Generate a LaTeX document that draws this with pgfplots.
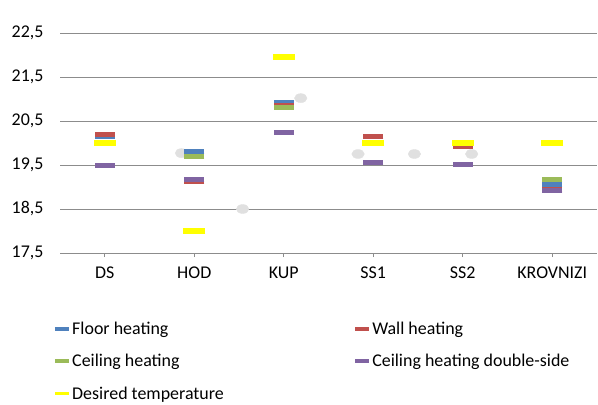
\documentclass[border=0pt]{standalone}
\usepackage{fontspec}
\setmainfont{Carlito}
\usepackage{pgfplots}
\pgfplotsset{compat=1.18}
\definecolor{cBlue}{HTML}{4F81BD}
\definecolor{cRed}{HTML}{C0504D}
\definecolor{cGreen}{HTML}{9BBB59}
\definecolor{cPurple}{HTML}{8064A2}
\definecolor{cYellow}{HTML}{FFFF00}
\definecolor{cGrid}{HTML}{8C8C8C}
\begin{document}
\begin{tikzpicture}[font=\fontsize{18}{21}\selectfont]
\path[use as bounding box] (-60bp,-152bp) rectangle (538bp,253bp);
\begin{axis}[
  at={(0,0)}, anchor=south west,
  scale only axis, width=537bp, height=220bp,
  xmin=-0.5, xmax=5.5, ymin=17.5, ymax=22.5,
  xtick={0,1,2,3,4,5},
  xticklabels={DS,HOD,KUP,SS1,SS2,KROVNIZI},
  ytick={17.5,18.5,19.5,20.5,21.5,22.5},
  yticklabel style={/pgf/number format/fixed,/pgf/number format/fixed zerofill,/pgf/number format/precision=1,/pgf/number format/use comma},
  /pgf/number format/assume math mode=true,
  axis y line*=left,
  y axis line style={draw=none},
  ytick style={draw=none},
  axis x line*=bottom,
  x axis line style={draw=cGrid, line width=1bp, -},
  ymajorgrids, grid style={draw=cGrid, line width=1bp},
  major tick length=4bp,
  xtick style={draw=cGrid, line width=1bp},
  xtick align=outside,
  tick label style={text=black, font=\fontsize{18}{21}\selectfont},
  xticklabel style={yshift=-6bp},
  yticklabel style={xshift=-13bp},
  clip=false,
  legend columns=2,
  legend cell align=left,
  legend style={draw=none, fill=none, inner sep=0pt, at={(-0.013,-0.305)}, anchor=north west,
    nodes={inner sep=1.5bp},
    /tikz/every even column/.append style={column sep=128bp},
    row sep=15.5bp, font=\fontsize{18}{21}\selectfont},
  legend image code/.code={\draw[line width=3.5bp] (0bp,0bp) -- (14bp,0bp);},
]
\addplot[only marks, forget plot, mark=*, mark size=4.5bp, mark options={draw=black!12, fill=black!12, xscale=1.4}]
 coordinates {(0.857,19.77) (1.54,18.5) (2.19,21.02) (2.83,19.75) (3.46,19.75) (4.10,19.75)};
\addplot[only marks, color=cBlue, mark=-, mark size=10bp, mark options={line width=5bp}]
 coordinates {(0,20.15) (1,19.81) (2,20.92) (3,20.0) (4,20.0) (5,19.05)};
\addlegendentry{Floor heating}
\addplot[only marks, color=cRed, mark=-, mark size=10bp, mark options={line width=5bp}]
 coordinates {(0,20.2) (1,19.12) (2,20.86) (3,20.14) (4,19.92) (5,18.95)};
\addlegendentry{Wall heating}
\addplot[only marks, color=cGreen, mark=-, mark size=10bp, mark options={line width=5bp}]
 coordinates {(0,20.0) (1,19.69) (2,20.8) (3,20.0) (4,20.0) (5,19.18)};
\addlegendentry{Ceiling heating}
\addplot[only marks, color=cPurple, mark=-, mark size=10bp, mark options={line width=5bp}]
 coordinates {(0,19.48) (1,19.18) (2,20.25) (3,19.55) (4,19.52) (5,18.91)};
\addlegendentry{Ceiling heating double-side}
\addplot[only marks, color=cYellow, mark=-, mark size=11bp, mark options={line width=6bp}]
 coordinates {(0,20.0) (1,18.0) (2,21.96) (3,20.0) (4,20.0) (5,20.0)};
\addlegendentry{Desired temperature}
\end{axis}
\end{tikzpicture}
\end{document}
